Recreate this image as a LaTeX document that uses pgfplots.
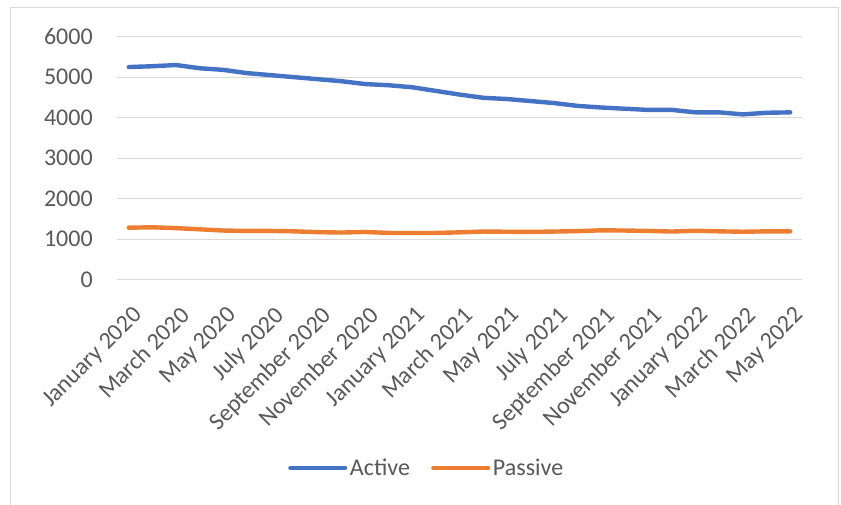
\documentclass[border=0pt]{standalone}
\usepackage{pgfplots}
\pgfplotsset{compat=1.18}
\usepackage{fontspec}
\setmainfont{Carlito}

\definecolor{activeblue}{HTML}{4472C4}
\definecolor{passiveorange}{HTML}{ED7D31}
\definecolor{gridgray}{HTML}{D9D9D9}
\definecolor{labelgray}{HTML}{595959}
\definecolor{framegray}{HTML}{D9D9D9}

% monthly values, January 2020 (0) to May 2022 (28)
\pgfplotstableread{
m active passive
0  5250 1280
1  5270 1290
2  5300 1270
3  5220 1240
4  5180 1210
5  5100 1200
6  5050 1200
7  5000 1190
8  4950 1170
9  4900 1160
10 4830 1175
11 4800 1150
12 4750 1150
13 4660 1150
14 4570 1165
15 4490 1185
16 4460 1180
17 4410 1175
18 4360 1185
19 4290 1195
20 4250 1215
21 4220 1210
22 4190 1200
23 4190 1185
24 4130 1205
25 4130 1190
26 4080 1180
27 4120 1190
28 4130 1190
}\data

\begin{document}
\begin{tikzpicture}
% 1 reference pixel = 0.75pt
\useasboundingbox (0pt,0pt) rectangle (630.75pt,378.75pt);
\draw[framegray, line width=0.75pt] (7.5pt,-4pt) rectangle (628.5pt,372.75pt);
\begin{axis}[
    at={(87.75pt,169.125pt)}, anchor=south west,
    scale only axis,
    width=513.75pt, height=182.1pt,
    xmin=-0.5, xmax=28.5,
    ymin=0, ymax=6000,
    ytick={0,1000,...,6000},
    xtick={0,2,...,28},
    xticklabels={January 2020, March 2020, May 2020, July 2020, September 2020, November 2020, January 2021, March 2021, May 2021, July 2021, September 2021, November 2021, January 2022, March 2022, May 2022},
    axis line style={draw=none},
    major tick length=0pt,
    ymajorgrids=true,
    grid style={gridgray, line width=0.75pt},
    tick label style={font=\fontsize{18}{21}\selectfont, text=labelgray},
    /pgf/number format/assume math mode=true,
    /pgf/number format/1000 sep={},
    yticklabel style={anchor=east, inner sep=0pt, xshift=-18pt},
    xticklabel style={rotate=45, anchor=north east, inner sep=0pt, yshift=-15pt, xshift=-12pt},
    legend style={at={(0.4526,-0.776)}, anchor=center, draw=none,
        legend columns=2, font=\fontsize{18}{21}\selectfont, text=labelgray,
        /tikz/every even column/.append style={column sep=14pt}},
    legend image code/.code={\draw[#1] (0pt,0pt) -- (41pt,0pt);},
]
\addplot[activeblue, line width=3.3pt, line cap=round, line join=round] table[x=m, y=active] {\data};
\addlegendentry{Active}
\addplot[passiveorange, line width=3.3pt, line cap=round, line join=round] table[x=m, y=passive] {\data};
\addlegendentry{Passive}
\end{axis}
\end{tikzpicture}
\end{document}
